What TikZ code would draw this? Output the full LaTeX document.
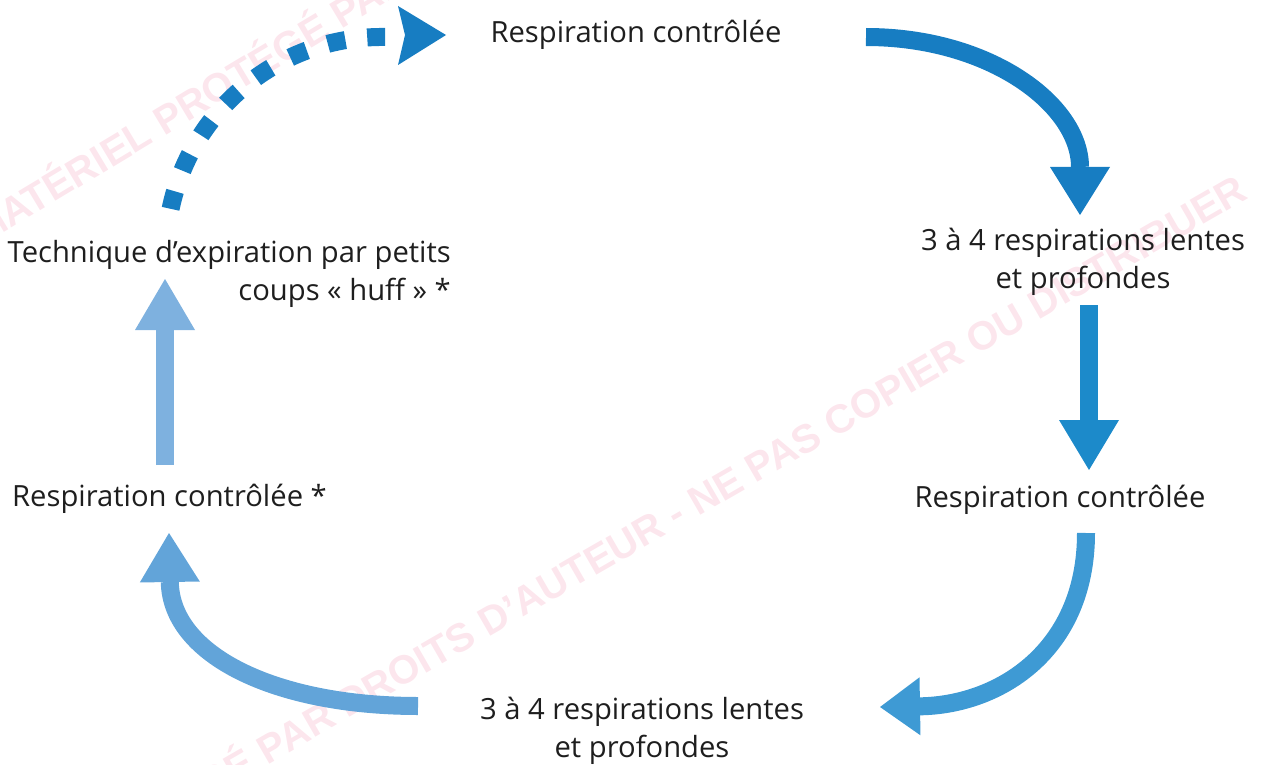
\documentclass[tikz,border=0pt]{standalone}
\usepackage{fontspec}
\setmainfont{Open Sans}
\newfontfamily\wmfont{Liberation Sans}
\usetikzlibrary{arrows.meta}
\definecolor{cA}{RGB}{23,125,194}
\definecolor{cB}{RGB}{28,138,202}
\definecolor{cC}{RGB}{62,154,212}
\definecolor{cD}{RGB}{98,164,217}
\definecolor{cE}{RGB}{126,177,223}
\definecolor{wmcol}{RGB}{252,230,237}
\definecolor{txt}{RGB}{30,30,30}
\begin{document}
\begin{tikzpicture}[x=1pt,y=-1pt,
  lbl/.style={font=\fontsize{29.2}{38}\selectfont, inner sep=0pt, text=txt},
  wm/.style={font=\wmfont\bfseries\fontsize{40}{40}\selectfont, inner sep=0pt, text=wmcol},
  fat/.style={line width=18pt},
  headtip/.style n args={2}{-{Triangle[length=#1pt,width=#2pt,line width=0pt]}}]
\useasboundingbox (0,0) rectangle (1264,765);
% watermark
\node[wm, anchor=base east, rotate=30] (wmA) at (1250,198) {MATÉRIEL PROTÉGÉ PAR DROITS D’AUTEUR - NE PAS COPIER OU DISTRIBUER};
\node[wm, anchor=base west, rotate=31] (wmB) at (-18,246) {MATÉRIEL PROTÉGÉ PAR DROITS D’AUTEUR - NE PAS COPIER OU DISTRIBUER};
% labels
\node[lbl, anchor=base] (top) at (636,43) {Respiration contrôlée};
\node[lbl, anchor=base, align=center] (r1) at (1083,288) {3 à 4 respirations lentes\\et profondes};
\node[lbl, anchor=base] (r2) at (1060,507) {Respiration contrôlée};
\node[lbl, anchor=base, align=center] (bot) at (642,757) {3 à 4 respirations lentes\\et profondes};
\node[lbl, anchor=base west] (l2) at (12,506) {Respiration contrôlée *};
\node[lbl, anchor=base east, align=right] (l1) at (451,300) {Technique d’expiration par petits\\coups « huff » *};
% connector end points
\coordinate (a1s) at (866,37);  \coordinate (a1e) at (1080,215);
\coordinate (a2s) at (1089,305); \coordinate (a2e) at (1089,470);
\coordinate (a3s) at (1086,533); \coordinate (a3e) at (880,707);
\coordinate (a4s) at (418,706); \coordinate (a4e) at (169,533);
\coordinate (a5s) at (165,465); \coordinate (a5e) at (165,279);
\coordinate (a6s) at (170.6,208.8);
\coordinate (h1) at (398,6); \coordinate (h2) at (446,35); \coordinate (h3) at (398,65); \coordinate (h4) at (405,35);
% arrows
\draw[fat, cA, headtip={48}{60}] (a1s) .. controls (990,37) and (1080,105) .. (a1e);
\draw[fat, cB, headtip={50}{60}] (a2s) -- (a2e);
\draw[fat, cC, headtip={40}{58}] (a3s) .. controls (1086,650) and (1000,705) .. (a3e);
\draw[fat, cD, headtip={49}{60}] (a4s) .. controls (275,706) and (171,655) .. (a4e);
\draw[fat, cE, headtip={51}{60}] (a5s) -- (a5e);
% dotted arrow
\draw[fat, cA, dash pattern=on 18pt off 22pt] (a6s) arc[start angle=168.2, end angle=89.2, radius=216pt];
\fill[cA] (h1) -- (h2) -- (h3) -- (h4) -- cycle;
\end{tikzpicture}
\end{document}
